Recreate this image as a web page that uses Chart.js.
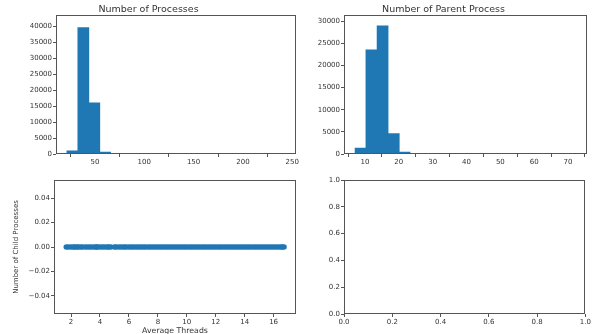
<!DOCTYPE html>
<html>
<head>
<meta charset="utf-8">
<script src="https://cdn.jsdelivr.net/npm/chart.js@4/dist/chart.umd.min.js"></script>
<style>
  html, body { margin: 0; padding: 0; background: #fff; overflow: hidden; }
  #wrap { position: relative; width: 592px; height: 334px; }
  canvas { position: absolute; }
</style>
</head>
<body>
<div id="wrap">
  <canvas id="cProc" width="300" height="166" style="left:0;top:0"></canvas>
  <canvas id="cParent" width="292" height="166" style="left:300px;top:0"></canvas>
  <canvas id="cChild" width="300" height="170" style="left:0;top:166px"></canvas>
  <canvas id="cEmpty" width="292" height="170" style="left:300px;top:166px"></canvas>
</div>
<script>
/* ---- dados ---- */
// histograma: número de processos (centro de cada bin, contagem)
const procBins   = [27.2, 38.3, 49.4, 60.4, 71.5, 82.6, 93.7, 104.7, 115.8, 126.9,
                    137.9, 149.0, 160.1, 171.1, 182.2, 193.3, 204.4, 215.4, 226.5, 237.6];
const procCounts = [1100, 39800, 16200, 700, 250, 120, 60, 40, 25, 15,
                    10, 8, 5, 4, 3, 2, 2, 1, 1, 1];
const procXTicks = [50, 100, 150, 200, 250];
const procYTicks = [0, 5000, 10000, 15000, 20000, 25000, 30000, 35000, 40000];

// histograma: número de processos pai
const parentBins   = [8.7, 11.9, 15.2, 18.5, 21.7, 25.0, 28.2, 31.5, 34.8, 38.0,
                      41.3, 44.5, 47.8, 51.1, 54.3, 57.6, 60.8, 64.1, 67.4, 70.6];
const parentCounts = [1400, 23600, 29000, 4700, 500, 150, 60, 30, 20, 40,
                      15, 10, 5, 5, 3, 2, 2, 1, 1, 1];
const parentXTicks = [10, 20, 30, 40, 50, 60, 70];
const parentYTicks = [0, 5000, 10000, 15000, 20000, 25000, 30000];

// dispersão: threads médias x processos filhos
const avgThreads = [1.67, 1.83, 2.0, 2.17, 2.25, 2.4, 2.5, 2.67, 2.8, 3.0,
                    3.17, 3.33, 3.5, 3.67, 3.75, 3.83, 4.0, 4.17, 4.33, 4.5,
                    4.6, 4.75, 5.0, 5.14, 5.33, 5.5, 5.67, 5.8, 6.0, 6.17,
                    6.33, 6.5, 6.67, 6.83, 7.0, 7.14, 7.33, 7.5, 7.67, 7.83,
                    8.0, 8.17, 8.33, 8.5, 8.67, 8.83, 9.0, 9.17, 9.33, 9.5,
                    9.67, 9.83, 10.0, 10.17, 10.33, 10.5, 10.67, 10.83, 11.0, 11.17,
                    11.33, 11.5, 11.67, 11.83, 12.0, 12.17, 12.33, 12.5, 12.67, 12.83,
                    13.0, 13.17, 13.33, 13.5, 13.67, 13.83, 14.0, 14.17, 14.33, 14.5,
                    14.67, 14.83, 15.0, 15.17, 15.33, 15.5, 15.67, 15.83, 16.0, 16.17,
                    16.33, 16.5, 16.6, 16.72];
const childProcs = [0, 0, 0, 0, 0, 0, 0, 0, 0, 0,
                    0, 0, 0, 0, 0, 0, 0, 0, 0, 0,
                    0, 0, 0, 0, 0, 0, 0, 0, 0, 0,
                    0, 0, 0, 0, 0, 0, 0, 0, 0, 0,
                    0, 0, 0, 0, 0, 0, 0, 0, 0, 0,
                    0, 0, 0, 0, 0, 0, 0, 0, 0, 0,
                    0, 0, 0, 0, 0, 0, 0, 0, 0, 0,
                    0, 0, 0, 0, 0, 0, 0, 0, 0, 0,
                    0, 0, 0, 0, 0, 0, 0, 0, 0, 0,
                    0, 0, 0, 0];
const childXTicks = [2, 4, 6, 8, 10, 12, 14, 16];
const childYTicks = [-0.04, -0.02, 0, 0.02, 0.04];

// eixos vazios
const unitTicks = [0, 0.2, 0.4, 0.6, 0.8, 1.0];

const BLUE = '#1f77b4';
const INK = '#333';
const EDGE = '#555';

Chart.defaults.font.family = "'DejaVu Sans'";
Chart.defaults.font.size = 7;
Chart.defaults.color = INK;
Chart.defaults.animation = false;

/* moldura completa, estilo matplotlib */
const moldura = {
  id: 'moldura',
  afterDraw(c) {
    const a = c.chartArea, ctx = c.ctx;
    ctx.save();
    ctx.strokeStyle = EDGE;
    ctx.lineWidth = 1;
    ctx.strokeRect(Math.round(a.left) + 0.5, Math.round(a.top) + 0.5,
                   Math.round(a.right - a.left) - 1, Math.round(a.bottom - a.top) - 1);
    ctx.restore();
  }
};

function eixo(min, max, ticks, size, fmt, extra) {
  return Object.assign({
    type: 'linear', min, max, offset: false,
    grid: { display: true, drawOnChartArea: false, drawTicks: true, tickLength: 3, color: EDGE },
    border: { display: false },
    ticks: { padding: 1, maxRotation: 0, autoSkip: false, color: INK, callback: fmt || (v => String(v)) },
    afterBuildTicks: s => { s.ticks = ticks.map(v => ({ value: v })); },
    afterFit: s => { if (s.isHorizontal()) s.height = size; else s.width = size; }
  }, extra || {});
}

function titulo(txt) {
  return { display: true, text: txt, color: INK, font: { size: 9.5, weight: 'normal' }, padding: { top: 4, bottom: 0 } };
}

function histograma(id, bins, counts, title, xr, yMax, xt, yt, yw, padR) {
  new Chart(document.getElementById(id), {
    type: 'bar',
    data: { datasets: [{ data: bins.map((b, i) => ({ x: b, y: counts[i] })), backgroundColor: BLUE,
                         barPercentage: 1.08, categoryPercentage: 1, borderWidth: 0 }] },
    options: {
      responsive: false,
      layout: { padding: { left: 0, right: padR, top: 0, bottom: 0 } },
      plugins: { legend: { display: false }, tooltip: { enabled: false }, title: titulo(title) },
      scales: {
        x: eixo(xr[0], xr[1], xt, 12),
        y: eixo(0, yMax, yt, yw)
      }
    },
    plugins: [moldura]
  });
}

histograma('cProc', procBins, procCounts, 'Number of Processes', [10.6, 254], 43500, procXTicks, procYTicks, 56, 3);
histograma('cParent', parentBins, parentCounts, 'Number of Parent Process', [3.8, 75.6], 31300, parentXTicks, parentYTicks, 44, 5);

const menos = v => (v < 0 ? '\u2212' : '') + Math.abs(v).toFixed(2);

new Chart(document.getElementById('cChild'), {
  type: 'scatter',
  data: { datasets: [{ data: avgThreads.map((x, i) => ({ x, y: childProcs[i] })),
                       backgroundColor: BLUE, borderWidth: 0, pointRadius: 2.8 }] },
  options: {
    responsive: false,
    layout: { padding: { left: 12, right: 4, top: 14, bottom: 0 } },
    plugins: { legend: { display: false }, tooltip: { enabled: false } },
    scales: {
      x: eixo(0.82, 17.55, childXTicks, 22, null,
              { title: { display: true, text: 'Average Threads', color: INK, font: { size: 7.8 }, padding: 0 } }),
      y: eixo(-0.055, 0.055, childYTicks, 42, menos,
              { title: { display: true, text: 'Number of Child Processes', color: INK, font: { size: 7 }, padding: 0 } })
    }
  },
  plugins: [moldura]
});

new Chart(document.getElementById('cEmpty'), {
  type: 'scatter',
  data: { datasets: [{ data: [] }] },
  options: {
    responsive: false,
    layout: { padding: { left: 0, right: 5, top: 14, bottom: 0 } },
    plugins: { legend: { display: false }, tooltip: { enabled: false } },
    scales: {
      x: eixo(0, 1, unitTicks, 22, v => v.toFixed(1)),
      y: eixo(0, 1, unitTicks, 44, v => v.toFixed(1))
    }
  },
  plugins: [moldura]
});
</script>
</body>
</html>
